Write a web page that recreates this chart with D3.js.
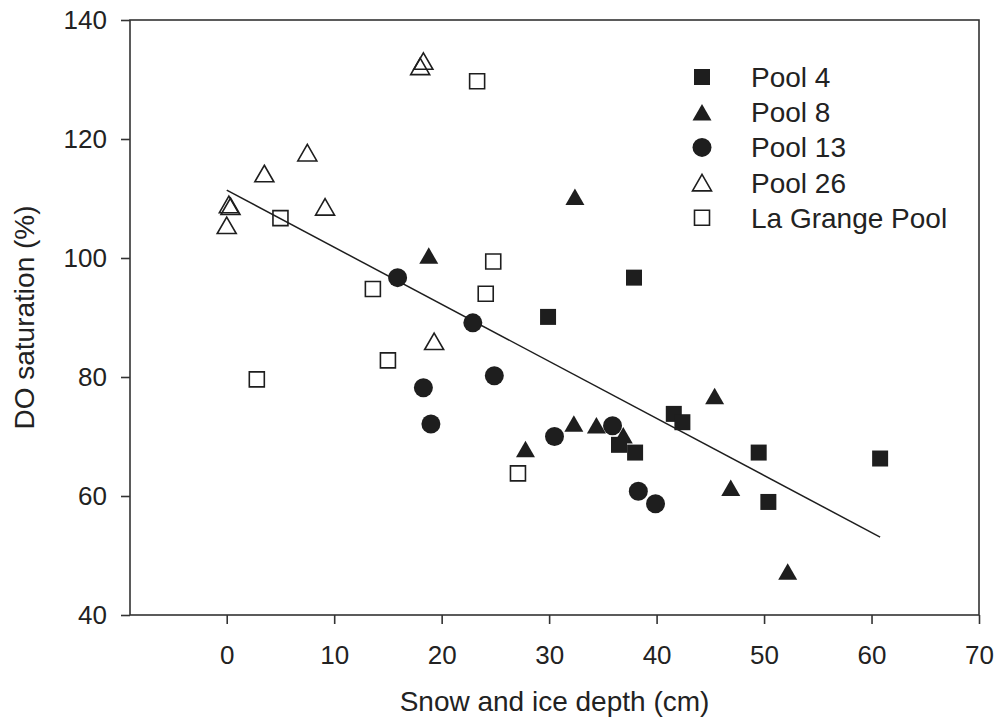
<!DOCTYPE html>
<html>
<head>
<meta charset="utf-8">
<script src="https://cdn.jsdelivr.net/npm/d3@7"></script>
<style>
  body { margin: 0; background: #fff; }
  svg text { font-family: "Liberation Sans", Arial, Helvetica, sans-serif; fill: #222; }
</style>
</head>
<body>
<svg width="997" height="721"></svg>
<script>
// series: [snow & ice depth (cm), DO saturation (%)]
let pool4 = [[29.9, 90.1], [37.9, 96.7], [41.6, 73.8], [42.4, 72.4], [36.5, 68.6], [38.0, 67.3], [49.5, 67.3], [50.4, 59.0], [60.8, 66.3]];
let pool8 = [[18.8, 100.4], [32.4, 110.3], [27.8, 67.9], [32.3, 72.2], [34.4, 71.9], [36.9, 70.2], [45.4, 76.8], [46.9, 61.4], [52.2, 47.3]];
let pool13 = [[15.9, 96.7], [22.9, 89.1], [24.9, 80.2], [18.3, 78.2], [19.0, 72.1], [30.5, 70.0], [35.9, 71.8], [38.3, 60.8], [39.9, 58.7]];
let pool26 = [[18.3, 133.1], [18.0, 132.2], [7.5, 117.7], [3.5, 114.2], [0.2, 109.0], [0.35, 108.7], [9.15, 108.6], [0.0, 105.5], [19.3, 86.0]];
let laGrange = [[23.3, 129.7], [5.0, 106.7], [24.8, 99.4], [13.6, 94.8], [24.1, 94.0], [15.0, 82.8], [2.8, 79.6], [27.1, 63.8]];

let seriesNames = ["Pool 4", "Pool 8", "Pool 13", "Pool 26", "La Grange Pool"];
let seriesShapes = ["square", "triangle", "circle", "triangle", "square"];
let seriesFilled = [true, true, true, false, false];

// fitted line: y = intercept + slope * x, drawn over x range of data
let fitIntercept = 111.4;
let fitSlope = -0.959;
let fitRange = [0, 60.8];

let xTicks = [0, 10, 20, 30, 40, 50, 60, 70];
let yTicks = [40, 60, 80, 100, 120, 140];

let svg = d3.select("svg");
let plotLeft = 130, plotRight = 979, plotTop = 20, plotBottom = 615;
let ink = "#1e1e1e";

let x = d3.scaleLinear().domain([-9, 70]).range([plotLeft, plotRight]);
let y = d3.scaleLinear().domain([40, 140]).range([plotBottom, plotTop]);

// frame
svg.append("rect")
  .attr("x", plotLeft).attr("y", plotTop)
  .attr("width", plotRight - plotLeft).attr("height", plotBottom - plotTop)
  .attr("fill", "none").attr("stroke", "#333").attr("stroke-width", 1.6);

let xAxis = svg.append("g")
  .attr("transform", "translate(0," + plotBottom + ")")
  .call(d3.axisBottom(x).tickValues(xTicks).tickSize(9).tickPadding(22));
let yAxis = svg.append("g")
  .attr("transform", "translate(" + plotLeft + ",0)")
  .call(d3.axisLeft(y).tickValues(yTicks).tickSize(9).tickPadding(14));

[xAxis, yAxis].forEach(function (g) {
  g.select(".domain").remove();
  g.selectAll("line").attr("stroke", "#333").attr("stroke-width", 1.6);
  g.selectAll("text").attr("font-size", 26).attr("fill", "#222")
    .attr("font-family", "'Liberation Sans', Arial, sans-serif");
});

svg.append("text")
  .attr("x", (plotLeft + plotRight) / 2).attr("y", 711)
  .attr("text-anchor", "middle").attr("font-size", 28)
  .text("Snow and ice depth (cm)");

svg.append("text")
  .attr("transform", "translate(34," + ((plotTop + plotBottom) / 2) + ") rotate(-90)")
  .attr("text-anchor", "middle").attr("font-size", 28)
  .text("DO saturation (%)");

// regression line
svg.append("line")
  .attr("x1", x(fitRange[0])).attr("y1", y(fitIntercept + fitSlope * fitRange[0]))
  .attr("x2", x(fitRange[1])).attr("y2", y(fitIntercept + fitSlope * fitRange[1]))
  .attr("stroke", ink).attr("stroke-width", 1.5);

let markerPath = function (shape, filled) {
  if (shape == "square") {
    let s = filled ? 16 : 15;
    return "M" + (-s / 2) + "," + (-s / 2) + "h" + s + "v" + s + "h" + (-s) + "Z";
  }
  if (shape == "triangle") {
    let w = 19, h = 16.5;
    return "M0," + (-h / 2) + "L" + (w / 2) + "," + (h / 2) + "L" + (-w / 2) + "," + (h / 2) + "Z";
  }
  return d3.symbol().type(d3.symbolCircle).size(Math.PI * 9.5 * 9.5)();
};

let allSeries = [pool4, pool8, pool13, pool26, laGrange];
// draw open markers first, filled on top
[3, 4, 0, 1, 2].forEach(function (k) {
  svg.append("g").selectAll("path")
    .data(allSeries[k])
    .enter()
    .append("path")
    .attr("d", markerPath(seriesShapes[k], seriesFilled[k]))
    .attr("transform", function (d) { return "translate(" + x(d[0]) + "," + y(d[1]) + ")"; })
    .attr("fill", seriesFilled[k] ? ink : "#fff")
    .attr("fill-opacity", seriesFilled[k] ? 1 : 0)
    .attr("stroke", ink)
    .attr("stroke-width", seriesFilled[k] ? 0 : 1.6);
});

// legend
let legend = svg.append("g").attr("transform", "translate(702,77)");
seriesNames.forEach(function (name, i) {
  let row = legend.append("g").attr("transform", "translate(0," + (i * 35.2) + ")");
  row.append("path")
    .attr("d", markerPath(seriesShapes[i], seriesFilled[i]))
    .attr("fill", seriesFilled[i] ? ink : "#fff")
    .attr("stroke", ink)
    .attr("stroke-width", seriesFilled[i] ? 0 : 1.6);
  row.append("text")
    .attr("x", 49).attr("y", 10)
    .attr("font-size", 28)
    .text(name);
});
</script>
</body>
</html>
